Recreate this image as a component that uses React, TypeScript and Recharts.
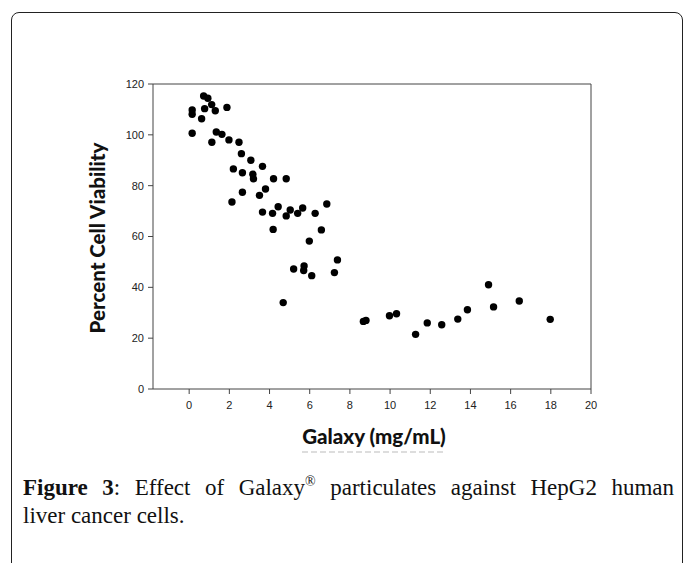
import React from 'react';
import { ScatterChart, Scatter, XAxis, YAxis, ReferenceLine } from 'recharts';

const xValues = [0.15, 0.15, 0.15, 0.62, 0.72, 0.93, 0.77, 1.12, 1.3, 1.35, 1.63, 1.13, 1.88, 1.98, 2.48, 2.6, 3.07, 3.65, 2.2, 2.65, 3.17, 3.2, 4.2, 4.83, 3.8, 3.5, 2.65, 2.13, 3.65, 4.15, 4.43, 4.83, 5.03, 5.4, 5.65, 6.27, 6.85, 4.18, 6.58, 5.98, 7.38, 7.23, 5.2, 5.72, 5.7, 6.1, 4.68, 8.67, 8.8, 9.97, 10.32, 11.27, 11.85, 12.57, 13.37, 13.85, 14.9, 15.15, 16.43, 17.97];
const yValues = [109.8, 108.1, 100.6, 106.3, 115.3, 114.4, 110.3, 111.9, 109.5, 101.1, 100.2, 97.1, 110.8, 98.0, 97.1, 92.6, 90.0, 87.6, 86.6, 85.1, 84.5, 82.7, 82.7, 82.7, 78.7, 76.2, 77.4, 73.6, 69.6, 69.1, 71.7, 68.1, 70.4, 69.1, 71.2, 69.1, 72.8, 62.8, 62.6, 58.2, 50.8, 45.8, 47.2, 48.4, 46.6, 44.6, 34.0, 26.6, 27.0, 28.8, 29.6, 21.5, 26.0, 25.3, 27.5, 31.2, 41.0, 32.3, 34.6, 27.4];
const xTicks = [0, 2, 4, 6, 8, 10, 12, 14, 16, 18, 20];
const yTicks = [0, 20, 40, 60, 80, 100, 120];
const xLabel = 'Galaxy (mg/mL)';
const yLabel = 'Percent Cell Viability';

const points = xValues.map((x, i) => ({ x, y: yValues[i] }));

const Dot = (props: any) => <circle cx={props.cx} cy={props.cy} r={3.7} fill="#000" />;

const tickStyle = { fontFamily: '"Liberation Sans", Arial, sans-serif', fontSize: 11, fill: '#222' };

export default function App() {
  return (
    <div style={{ position: 'absolute', left: 0, top: 0, width: 683, height: 563, overflow: 'hidden', background: '#fff' }}>
      <div style={{ position: 'absolute', left: 11, top: 12, width: 670, height: 620, border: '1.5px solid #222', borderRadius: 8 }} />
      <div style={{ position: 'absolute', left: 0, top: 0 }}>
        <ScatterChart width={683} height={563} margin={{ top: 84, right: 92, bottom: 144, left: 93 }}>
          <XAxis
            type="number"
            dataKey="x"
            domain={[-1.8, 20]}
            ticks={xTicks}
            allowDataOverflow
            height={30}
            tickSize={5}
            tickMargin={7}
            stroke="#444"
            tick={tickStyle}
          />
          <YAxis
            type="number"
            dataKey="y"
            domain={[0, 120]}
            ticks={yTicks}
            allowDataOverflow
            width={60}
            tickSize={5}
            tickMargin={4}
            stroke="#444"
            tick={tickStyle}
          />
          <ReferenceLine y={120} stroke="#444" />
          <ReferenceLine x={20} stroke="#444" />
          <Scatter data={points} shape={Dot} isAnimationActive={false} />
        </ScatterChart>
      </div>
      <div style={{ position: 'absolute', left: 97, top: 238, transform: 'translate(-50%, -50%) rotate(-90deg)', whiteSpace: 'nowrap', fontFamily: 'Lato, "Open Sans", sans-serif', fontWeight: 900, fontSize: 20.5, color: '#111' }}>
        {yLabel}
      </div>
      <div style={{ position: 'absolute', left: 374, top: 436, transform: 'translate(-50%, -50%)', whiteSpace: 'nowrap', fontFamily: 'Lato, "Open Sans", sans-serif', fontWeight: 900, fontSize: 20.5, color: '#111' }}>
        {xLabel}
      </div>
      <svg style={{ position: 'absolute', left: 0, top: 0 }} width={683} height={563} pointerEvents="none">
        <line x1={302} y1={452} x2={446} y2={452} stroke="#bbb" strokeWidth={1} strokeDasharray="6 3" />
      </svg>
      <div style={{ position: 'absolute', left: 23, top: 474, width: 651, fontFamily: '"Liberation Serif", "Times New Roman", serif', fontSize: 23, lineHeight: '28px', color: '#111' }}>
        <div style={{ textAlign: 'justify', textAlignLast: 'justify' }}>
          <b>Figure 3</b>: Effect of Galaxy<sup style={{ fontSize: 14, lineHeight: 0 }}>®</sup> particulates against HepG2 human
        </div>
        <div>liver cancer cells.</div>
      </div>
    </div>
  );
}
